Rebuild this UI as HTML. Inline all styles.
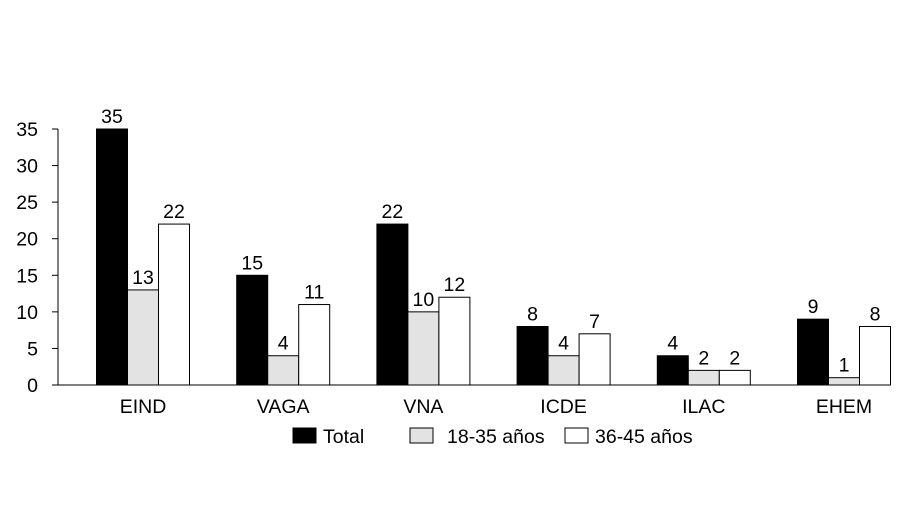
<!DOCTYPE html>
<html><head><meta charset="utf-8"><style>
body{margin:0;background:#fff;}
svg text{font-family:"Liberation Sans",sans-serif;font-size:19.5px;fill:#000;}
</style></head><body>
<svg width="897" height="521">
<g id="g"></g>
</svg>
<script>
const categories=["EIND","VAGA","VNA","ICDE","ILAC","EHEM"];
const totalValues=[35,15,22,8,4,9];
const youngValues=[13,4,10,4,2,1];
const olderValues=[22,11,12,7,2,8];
const yTicks=[0,5,10,15,20,25,30,35];
const seriesNames=["Total","18-35 años","36-45 años"];
const fills=["#000","#e3e3e3","#fff"];
const NS="http://www.w3.org/2000/svg";
const g=document.getElementById('g');
function y(v){return 385-v*(256/35);}
function groupCenter(i){return 143+i*140.2;}
const bw=31;
function mk(t,a){const e=document.createElementNS(NS,t);for(const k in a)e.setAttribute(k,a[k]);g.appendChild(e);return e;}
let e=mk('line',{x1:58,y1:129,x2:58,y2:385,stroke:'#000','stroke-width':1});


yTicks.forEach(t=>{
 const l=mk('line',{x1:52,x2:58,y1:y(t),y2:y(t),stroke:'#000'});
 
 
 const tx=mk('text',{x:38,y:y(t)+7,'text-anchor':'end'});tx.textContent=t;
 
 
});
const series=[totalValues,youngValues,olderValues];
categories.forEach((c,i)=>{
 const cx=groupCenter(i);
 series.forEach((s,j)=>{
  const x=cx-bw*1.5+j*bw;
  const r=mk('rect',{x:x,y:y(s[i]),width:bw,height:385-y(s[i]),fill:fills[j],stroke:'#000','stroke-width':1});
  
  
  const t=mk('text',{x:x+bw/2,y:y(s[i])-6,'text-anchor':'middle'});t.textContent=s[i];
  
  
 });
 const xt=mk('text',{x:cx,y:413,'text-anchor':'middle'});xt.textContent=c;
 
 
});
e=mk('line',{x1:58,y1:385,x2:872,y2:385,stroke:'#000','stroke-width':1});


const lx=[293,410,565],tx=[323,447,595];
seriesNames.forEach((n,j)=>{
 const r=mk('rect',{x:lx[j],y:428,width:23,height:15,fill:fills[j],stroke:'#000'});
 
 
 const t=mk('text',{x:tx[j],y:443});t.textContent=n;
 
 
});
</script>
</body></html>
